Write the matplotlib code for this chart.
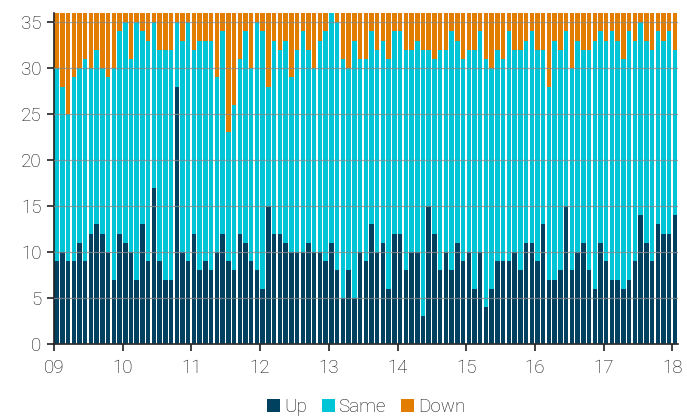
import numpy as np
import matplotlib
matplotlib.use('Agg')
import matplotlib.pyplot as plt

# monthly counts, Jan 2009 .. Jan 2018
up = [9, 10, 9, 9, 11, 9, 12, 13, 12, 10, 7, 12,
      11, 10, 7, 13, 9, 17, 9, 7, 7, 28, 10, 9,
      12, 8, 9, 8, 10, 12, 9, 8, 12, 11, 9, 8,
      6, 15, 12, 12, 11, 10, 10, 10, 11, 10, 10, 9,
      11, 8, 5, 8, 5, 10, 9, 13, 10, 11, 6, 12,
      12, 8, 10, 10, 3, 15, 12, 8, 10, 8, 11, 9,
      10, 6, 10, 4, 6, 9, 9, 9, 10, 8, 11, 11,
      9, 13, 7, 7, 8, 15, 8, 10, 11, 8, 6, 11,
      9, 7, 7, 6, 7, 9, 14, 11, 9, 13, 12, 12, 14]
same = [21, 18, 16, 20, 19, 22, 18, 19, 18, 19, 23, 22,
        24, 21, 28, 21, 24, 18, 23, 25, 25, 7, 23, 26,
        20, 25, 24, 25, 19, 22, 14, 18, 19, 23, 21, 27,
        28, 13, 21, 20, 22, 19, 22, 24, 21, 20, 23, 25,
        25, 27, 26, 22, 28, 21, 22, 21, 22, 22, 25, 22,
        22, 24, 22, 23, 29, 17, 19, 24, 22, 26, 22, 22,
        22, 26, 24, 27, 24, 23, 22, 25, 22, 24, 22, 23,
        23, 19, 21, 26, 24, 19, 22, 23, 21, 24, 27, 23,
        24, 27, 26, 25, 27, 24, 21, 22, 23, 21, 21, 22, 18]
down = [6, 8, 11, 7, 6, 5, 6, 4, 6, 7, 6, 2,
        1, 5, 1, 2, 3, 1, 4, 4, 4, 1, 3, 1,
        4, 3, 3, 3, 7, 2, 13, 10, 5, 2, 6, 1,
        2, 8, 3, 4, 3, 7, 4, 2, 4, 6, 3, 2,
        0, 1, 5, 6, 3, 5, 5, 2, 4, 3, 5, 2,
        2, 4, 4, 3, 4, 4, 5, 4, 4, 2, 3, 5,
        4, 4, 2, 5, 6, 4, 5, 2, 4, 4, 3, 2,
        4, 4, 8, 3, 4, 2, 6, 3, 4, 4, 3, 2,
        3, 2, 3, 5, 2, 3, 1, 3, 4, 2, 3, 2, 4]
year_labels = ['09', '10', '11', '12', '13', '14', '15', '16', '17', '18']

c_up, c_same, c_down = '#00415f', '#00c5d6', '#e27d00'
txt = '#111111'

plt.rcParams['font.family'] = ['Roboto', 'DejaVu Sans']
plt.rcParams['font.weight'] = 'light'

fig = plt.figure(figsize=(6.87, 4.17), dpi=100)
ax = fig.add_axes([0.0786, 0.175, 0.9084, 0.794])

x = np.arange(len(up)) + 0.06
up_a, same_a, down_a = np.array(up), np.array(same), np.array(down)
w = 0.78
ax.bar(x, up_a, width=w, align='edge', color=c_up, label='Up')
ax.bar(x, same_a, width=w, bottom=up_a, align='edge', color=c_same, label='Same')
ax.bar(x, down_a, width=w, bottom=up_a + same_a, align='edge', color=c_down, label='Down')

ax.set_xlim(0, 109)
ax.set_ylim(0, 36)
ax.set_yticks(range(0, 36, 5))
ax.set_xticks(np.arange(len(year_labels)) * 12)
ax.set_xticklabels(year_labels)

ax.grid(axis='y', color='#8a8a8a', linewidth=0.9, alpha=0.75)
ax.set_axisbelow(False)

for s in ['top', 'right']:
    ax.spines[s].set_visible(False)
for s in ['left', 'bottom']:
    ax.spines[s].set_color('#222222')
    ax.spines[s].set_linewidth(1.2)

ax.tick_params(axis='both', colors='#222222', labelcolor=txt, labelsize=13.5,
               length=5, width=1.2)
ax.tick_params(axis='y', pad=4)
ax.tick_params(axis='x', pad=6)

leg = ax.legend(loc='upper center', bbox_to_anchor=(0.5, -0.113), ncol=3, frameon=False,
                fontsize=13.5, handlelength=0.7, handleheight=0.7, handletextpad=0.2,
                columnspacing=0.8)
for t in leg.get_texts():
    t.set_color(txt)

fig.savefig('out.png', dpi=100)
